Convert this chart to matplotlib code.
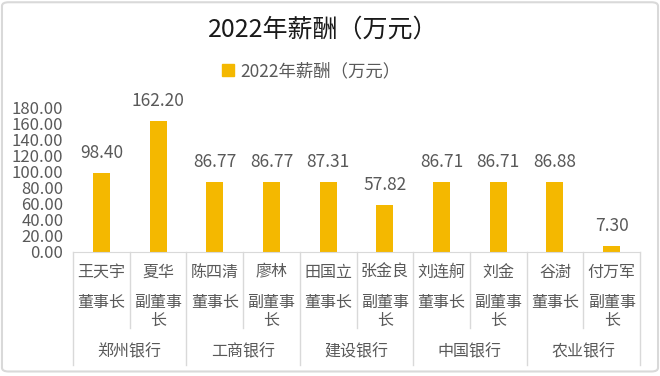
import matplotlib
matplotlib.use("Agg")
import matplotlib.pyplot as plt
from matplotlib.patches import Patch, FancyBboxPatch
from matplotlib.transforms import blended_transform_factory

plt.rcParams['font.family'] = ['Noto Sans CJK SC', 'DejaVu Sans']

# data
names = ['王天宇', '夏华', '陈四清', '廖林', '田国立', '张金良', '刘连舸', '刘金', '谷澍', '付万军']
roles = ['董事长', '副董事\n长', '董事长', '副董事\n长', '董事长', '副董事\n长',
         '董事长', '副董事\n长', '董事长', '副董事\n长']
banks = ['郑州银行', '工商银行', '建设银行', '中国银行', '农业银行']
pay = [98.40, 162.20, 86.77, 86.77, 87.31, 57.82, 86.71, 86.71, 86.88, 7.30]
yticks = [0, 20, 40, 60, 80, 100, 120, 140, 160, 180]

bar_color = '#F4B800'
txt_gray = '#595959'
line_gray = '#D9D9D9'

fig = plt.figure(figsize=(6.6, 3.76), dpi=100)

# px -> axes fraction helpers (axis bottom at y=252px, 180 at 107px)
def yfrac(ypx):
    return (252 - ypx) / 145.0

ax = fig.add_axes([73 / 660, 124 / 376, 567 / 660, 145 / 376])
x = list(range(len(names)))
ax.bar(x, pay, width=0.3, color=bar_color, zorder=2)
ax.set_xlim(-0.5, len(names) - 0.5)
ax.set_ylim(0, 180)
ax.set_yticks(yticks)
ax.set_yticklabels(['%.2f' % v for v in yticks], color=txt_gray, fontsize=12)
ax.tick_params(axis='y', length=0, pad=7)
ax.set_xticks([])
for s in ['top', 'right', 'left']:
    ax.spines[s].set_visible(False)
ax.spines['bottom'].set_color(line_gray)

for xi, v in zip(x, pay):
    ax.annotate('%.2f' % v, (xi, v), xytext=(0, 14.4), textcoords='offset points',
                ha='center', va='center', fontsize=12.5, color=txt_gray)

tr = blended_transform_factory(ax.transData, ax.transAxes)
for xi, n, r in zip(x, names, roles):
    ax.text(xi, yfrac(272), n, transform=tr, ha='center', va='center',
            fontsize=11.5, color=txt_gray)
    ax.text(xi, yfrac(294), r, transform=tr, ha='center', va='top',
            fontsize=11.5, color=txt_gray, linespacing=1.1, multialignment='center')
for bi, b in enumerate(banks):
    ax.text(2 * bi + 0.5, yfrac(352), b, transform=tr, ha='center', va='center',
            fontsize=11.5, color=txt_gray)

# category table lines
for k in range(len(names) + 1):
    xb = k - 0.5
    bottom = yfrac(365) if k % 2 == 0 else yfrac(328)
    ax.plot([xb, xb], [0, bottom], transform=tr, color=line_gray, lw=1, clip_on=False)

fig.text(0.49, 1 - 30 / 376, '2022年薪酬（万元）', ha='center', va='center',
         fontsize=18, color='#1a1a1a')
fig.legend(handles=[Patch(color=bar_color, label='2022年薪酬（万元）')],
           loc='center', bbox_to_anchor=(0.472, 1 - 71 / 376), frameon=False,
           handlelength=0.65, handleheight=0.65, handletextpad=0.4,
           prop={'size': 12.5}, labelcolor=txt_gray)

fig.patches.append(FancyBboxPatch((0.003, 0.012), 0.994, 0.982, boxstyle='round,pad=0,rounding_size=0.01',
                                  transform=fig.transFigure, fill=False,
                                  edgecolor=line_gray, lw=1.5))

fig.savefig('out.png', dpi=100)
